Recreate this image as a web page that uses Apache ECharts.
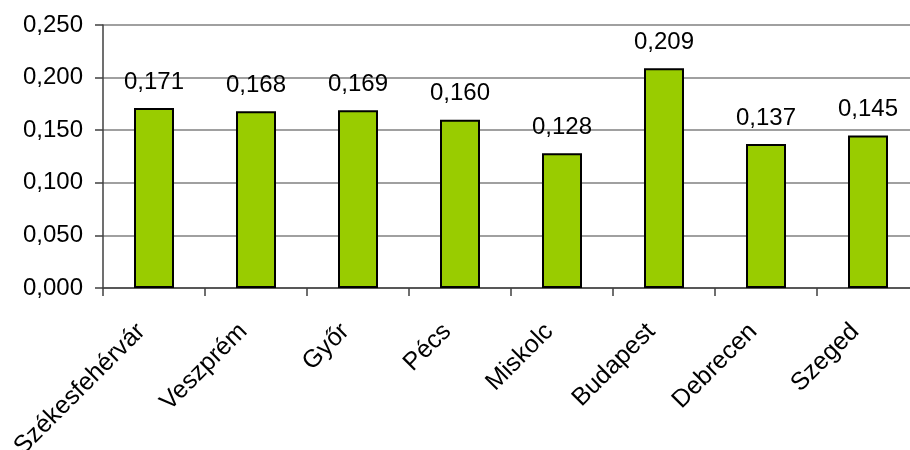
<!DOCTYPE html>
<html>
<head>
<meta charset="utf-8">
<script src="https://cdn.jsdelivr.net/npm/echarts@6/dist/echarts.min.js"></script>
<style>
  html, body { margin: 0; padding: 0; background: #fff; }
  #chart { width: 910px; height: 450px; }
</style>
</head>
<body>
<div id="chart"></div>
<script>
// Cities and their values
const cities = ['Székesfehérvár', 'Veszprém', 'Győr', 'Pécs', 'Miskolc', 'Budapest', 'Debrecen', 'Szeged'];
const values = [0.171, 0.168, 0.169, 0.160, 0.128, 0.209, 0.137, 0.145];

// Value axis range
const yMin = 0;
const yMax = 0.25;
const yStep = 0.05;

// Hungarian number style: three decimals, comma separator
const fmt = v => v.toFixed(3).replace('.', ',');

const font = 'Liberation Sans, Arial, sans-serif';

const chart = echarts.init(document.getElementById('chart'), null, { renderer: 'canvas' });
chart.setOption({
  animation: false,
  backgroundColor: '#ffffff',
  grid: {
    left: 103, right: -9, top: 25, bottom: 162,
    containLabel: false,
    outerBoundsMode: 'none'
  },
  xAxis: {
    type: 'category',
    data: cities,
    axisLine: { show: true, lineStyle: { color: '#404040', width: 1.5 } },
    axisTick: { show: true, alignWithLabel: false, length: 8, lineStyle: { color: '#404040', width: 1.5 } },
    axisLabel: {
      interval: 0,
      rotate: 45,
      margin: 27,
      padding: [0, 18, 0, 0],
      color: '#000',
      fontFamily: font,
      fontSize: 25
    },
    splitLine: { show: false }
  },
  yAxis: {
    type: 'value',
    min: yMin,
    max: yMax,
    interval: yStep,
    axisLine: { show: true, lineStyle: { color: '#404040', width: 1.5 } },
    axisTick: { show: true, length: 8, lineStyle: { color: '#404040', width: 1.5 } },
    axisLabel: {
      formatter: fmt,
      margin: 20,
      color: '#000',
      fontFamily: font,
      fontSize: 24
    },
    splitLine: { show: true, lineStyle: { color: '#808080', width: 1.5 } }
  },
  series: [{
    type: 'bar',
    data: values,
    barWidth: 40,
    itemStyle: { color: '#99CC00', borderColor: '#000', borderWidth: 2 },
    label: {
      show: true,
      position: 'top',
      distance: 14,
      formatter: p => fmt(p.value),
      color: '#000',
      fontFamily: font,
      fontSize: 24
    }
  }]
});
</script>
</body>
</html>
